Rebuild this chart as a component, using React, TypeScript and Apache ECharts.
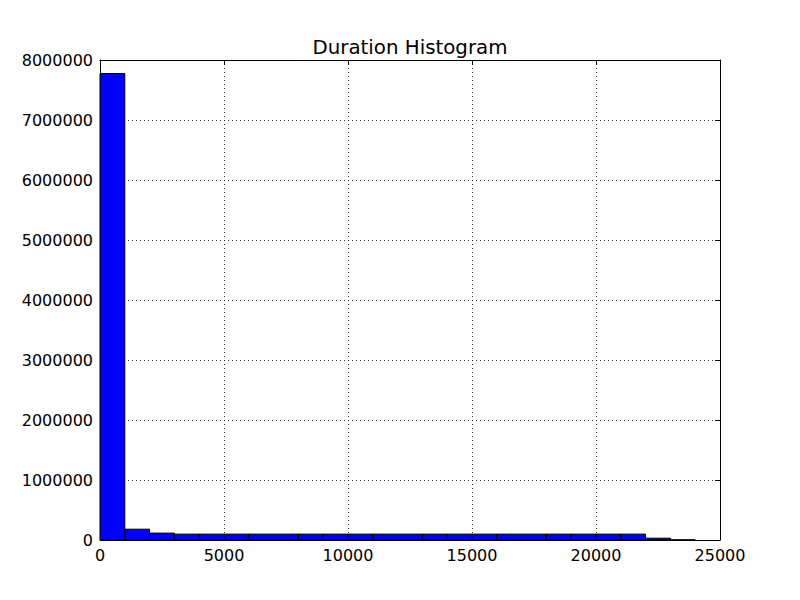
import React, { useEffect, useRef } from "react";
import * as echarts from "echarts";

const binStarts = [
  0, 1000, 2000, 3000, 4000, 5000, 6000, 7000, 8000, 9000, 10000, 11000,
  12000, 13000, 14000, 15000, 16000, 17000, 18000, 19000, 20000, 21000,
  22000, 23000,
];
const binWidth = 1000;
const counts = [
  7775000, 180000, 115000, 98000, 98000, 98000, 98000, 98000, 98000, 98000,
  98000, 98000, 98000, 98000, 98000, 98000, 98000, 98000, 98000, 98000, 98000,
  98000, 30000, 3000,
];
const titleText = "Duration Histogram";

const FONT = "DejaVu Sans";

export default function App() {
  const ref = useRef<HTMLDivElement>(null);
  useEffect(() => {
    if (!ref.current) return;
    const chart = echarts.init(ref.current, null, { renderer: "svg" });
    const data = binStarts.map((s, i) => [s, s + binWidth, counts[i]]);
    const gridLine = {
      show: true,
      lineStyle: { color: "#000", type: [1, 3], width: 0.8 },
    };
    const fmt = (v: number) => String(v);
    chart.setOption({
      animation: false,
      backgroundColor: "#fff",
      graphic: [
        {
          type: "text",
          x: 410,
          y: 47,
          style: {
            text: titleText,
            fontFamily: FONT,
            fontSize: 19.8,
            fill: "#000",
            align: "center",
            verticalAlign: "middle",
          },
        },
      ],
      grid: { left: 100, right: 80, top: 60, bottom: 60 },
      xAxis: [
        {
          type: "value",
          min: 0,
          max: 25000,
          interval: 5000,
          axisLine: { show: true, onZero: false, lineStyle: { color: "#000", width: 1 } },
          axisTick: { show: true, inside: true, length: 5, lineStyle: { color: "#000" } },
          axisLabel: { fontFamily: FONT, fontSize: 16, color: "#000", margin: 7, formatter: fmt },
          splitLine: gridLine,
        },
        {
          type: "value",
          position: "top",
          min: 0,
          max: 25000,
          interval: 5000,
          axisLine: { show: true, onZero: false, lineStyle: { color: "#000", width: 1 } },
          axisTick: { show: true, inside: true, length: 5, lineStyle: { color: "#000" } },
          axisLabel: { show: false },
          splitLine: { show: false },
        },
      ],
      yAxis: [
        {
          type: "value",
          min: 0,
          max: 8000000,
          interval: 1000000,
          axisLine: { show: true, onZero: false, lineStyle: { color: "#000", width: 1 } },
          axisTick: { show: true, inside: true, length: 5, lineStyle: { color: "#000" } },
          axisLabel: { fontFamily: FONT, fontSize: 16, color: "#000", margin: 7, formatter: fmt },
          splitLine: gridLine,
        },
        {
          type: "value",
          position: "right",
          min: 0,
          max: 8000000,
          interval: 1000000,
          axisLine: { show: true, onZero: false, lineStyle: { color: "#000", width: 1 } },
          axisTick: { show: true, inside: true, length: 5, lineStyle: { color: "#000" } },
          axisLabel: { show: false },
          splitLine: { show: false },
        },
      ],
      series: [
        {
          type: "custom",
          xAxisIndex: 0,
          yAxisIndex: 0,
          data,
          encode: { x: [0, 1], y: 2 },
          renderItem: (params: any, api: any) => {
            const p0 = api.coord([api.value(0), api.value(2)]);
            const p1 = api.coord([api.value(1), 0]);
            return {
              type: "rect",
              shape: {
                x: p0[0],
                y: p0[1],
                width: p1[0] - p0[0],
                height: p1[1] - p0[1],
              },
              style: { fill: "#0000ff", stroke: "#000", lineWidth: 1 },
            };
          },
          z: 3,
        },
      ],
    });
    return () => chart.dispose();
  }, []);
  return <div ref={ref} style={{ width: 800, height: 600, margin: -8 }} />;
}
